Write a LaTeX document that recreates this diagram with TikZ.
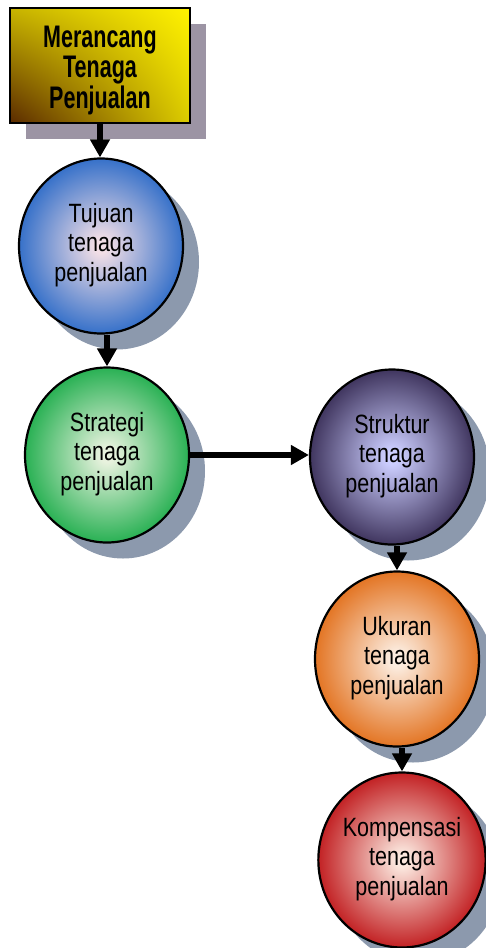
\documentclass[tikz,border=0pt]{standalone}
\usepackage{fontspec}
\setmainfont{Liberation Sans}
\usepackage{graphicx}
\usetikzlibrary{shapes.geometric,shadows,shadings,arrows.meta}
\definecolor{tujE}{HTML}{2E6CC8}\definecolor{tujC}{HTML}{F2DEE6}
\definecolor{strE}{HTML}{21AE4E}\definecolor{strC}{HTML}{E8F2DE}
\definecolor{stkE}{HTML}{3A2F58}\definecolor{stkC}{HTML}{CCCEFF}
\definecolor{ukuE}{HTML}{E2701C}\definecolor{ukuC}{HTML}{FCECDF}
\definecolor{komE}{HTML}{C0191C}\definecolor{komC}{HTML}{FBE7DE}
\definecolor{ballsh}{HTML}{8C99AD}
\definecolor{boxsh}{HTML}{9C94A4}
\definecolor{boxLL}{HTML}{5A2A00}\definecolor{boxUR}{HTML}{FFF200}
\definecolor{boxUL}{HTML}{C8B400}\definecolor{boxLR}{HTML}{DCCC00}
\pgfdeclareradialshading{tujS}{\pgfpoint{0bp}{0bp}}{color(0bp)=(tujC); color(2bp)=(tujC); color(26bp)=(tujE); color(50bp)=(tujE)}
\pgfdeclareradialshading{strS}{\pgfpoint{0bp}{0bp}}{color(0bp)=(strC); color(2bp)=(strC); color(26bp)=(strE); color(50bp)=(strE)}
\pgfdeclareradialshading{stkS}{\pgfpoint{0bp}{0bp}}{color(0bp)=(stkC); color(2bp)=(stkC); color(26bp)=(stkE); color(50bp)=(stkE)}
\pgfdeclareradialshading{ukuS}{\pgfpoint{0bp}{0bp}}{color(0bp)=(ukuC); color(2bp)=(ukuC); color(26bp)=(ukuE); color(50bp)=(ukuE)}
\pgfdeclareradialshading{komS}{\pgfpoint{0bp}{0bp}}{color(0bp)=(komC); color(2bp)=(komC); color(26bp)=(komE); color(50bp)=(komE)}
\newcommand{\stk}[1]{\scalebox{1}[1.23]{\fontsize{21.5pt}{24pt}\selectfont\begin{tabular}{@{}c@{}}#1\end{tabular}}}
\newcommand{\bstk}[1]{\raisebox{-6pt}[\height][\depth]{\scalebox{1}[1.45]{\fontsize{21.5pt}{19.7pt}\selectfont\bfseries\begin{tabular}{@{}c@{}}#1\end{tabular}}}}
\begin{document}
\begin{tikzpicture}[x=1pt,y=-1pt,
  ball/.style={ellipse, draw=black, line width=2.2pt, minimum width=164pt,
    minimum height=175pt, inner sep=0pt, text=black,
    drop shadow={shadow xshift=16pt, shadow yshift=-16pt, fill=ballsh, opacity=1}},
  titlebox/.style={rectangle, draw=black, line width=2.2pt, minimum width=180pt,
    minimum height=115pt, inner sep=0pt, text=black,
    lower left=boxLL, upper right=boxUR, upper left=boxUL, lower right=boxLR,
    drop shadow={shadow xshift=16pt, shadow yshift=-16pt, fill=boxsh, opacity=1}},
  arr/.style={line width=6.5pt, -{Triangle[length=18pt,width=19pt]}}]
\useasboundingbox (0,0) rectangle (486,948);
\node[titlebox] (box) at (100,65.5) {\bstk{Merancang\\Tenaga\\Penjualan}};
\node[ball, shading=tujS] (T) at (101,246) {\stk{Tujuan\\tenaga\\penjualan}};
\node[ball, shading=strS] (S) at (107,455) {\stk{Strategi\\tenaga\\penjualan}};
\node[ball, shading=stkS] (St) at (392,457) {\stk{Struktur\\tenaga\\penjualan}};
\node[ball, shading=ukuS] (U) at (397,659) {\stk{Ukuran\\tenaga\\penjualan}};
\node[ball, shading=komS] (K) at (402,860) {\stk{Kompensasi\\tenaga\\penjualan}};
\draw[arr] (box.south) -- (box.south |- T.north);
\draw[arr] (S.north |- T.south) -- (S.north);
\draw[arr] (S.east) -- (St.west |- S.east);
\draw[arr] (U.north |- St.south) -- (U.north);
\draw[arr] (K.north |- U.south) -- (K.north);
\end{tikzpicture}
\end{document}
